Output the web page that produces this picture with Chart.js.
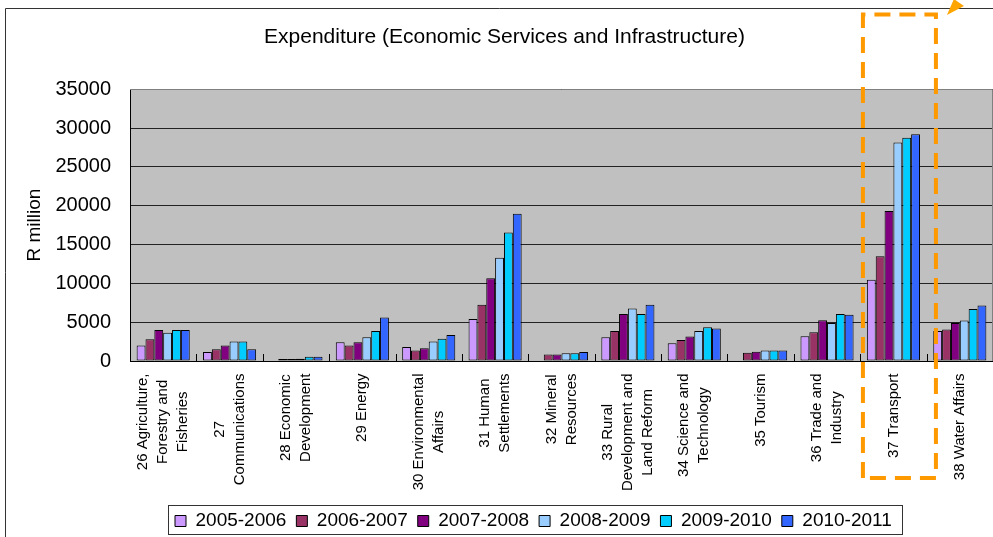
<!DOCTYPE html>
<html>
<head>
<meta charset="utf-8">
<title>Expenditure (Economic Services and Infrastructure)</title>
<script src="https://cdn.jsdelivr.net/npm/chart.js@4.4.1/dist/chart.umd.min.js"></script>
<style>
  html, body { margin: 0; padding: 0; background: #fff; }
  canvas { display: block; }
</style>
</head>
<body>
<canvas id="graficaGasto" width="993" height="537"></canvas>
<script>
// Votos (categorías), cada uno partido en líneas
const categorias = [
  ["26 Agriculture,", "Forestry and", "Fisheries"],
  ["27", "Communications"],
  ["28 Economic", "Development"],
  ["29 Energy"],
  ["30 Environmental", "Affairs"],
  ["31 Human", "Settlements"],
  ["32 Mineral", "Resources"],
  ["33 Rural", "Development and", "Land Reform"],
  ["34 Science and", "Technology"],
  ["35 Tourism"],
  ["36 Trade and", "Industry"],
  ["37 Transport"],
  ["38 Water Affairs"]
];

const periodos = ["2005-2006", "2006-2007", "2007-2008", "2008-2009", "2009-2010", "2010-2011"];

// Gasto en R millones por año fiscal (null = sin dato)
const gasto0506 = [2000, 1150, null, 2400, 1800, 5400, null, 3050, 2300, null, 3200, 10450, 3850];
const gasto0607 = [2800, 1500, 250, 2000, 1350, 7250, 850, 3850, 2700, 1050, 3700, 13500, 4050];
const gasto0708 = [4000, 2000, 250, 2400, 1650, 10650, 850, 6050, 3150, 1200, 5250, 19300, 4900];
const gasto0809 = [3650, 2500, 300, 3050, 2500, 13300, 1000, 6750, 3850, 1350, 4900, 28150, 5200];
const gasto0910 = [4000, 2500, 550, 3850, 2850, 16550, 1000, 6050, 4350, 1350, 6050, 28750, 6700];
const gasto1011 = [4000, 1500, 550, 5600, 3350, 18950, 1150, 7250, 4200, 1350, 5950, 29200, 7150];

const marcasY = [0, 5000, 10000, 15000, 20000, 25000, 30000, 35000];

const colores = ["#CC99FF", "#993366", "#800080", "#99CCFF", "#00CCFF", "#3366FF"];
const series = [gasto0506, gasto0607, gasto0708, gasto0809, gasto0910, gasto1011];

const fuente = '"Liberation Sans", Arial, sans-serif';
Chart.defaults.font.family = fuente;
Chart.defaults.color = "#000";

// Categoría que se resalta con el recuadro naranja
const resaltado = 11;

const adornos = {
  id: "adornos",
  afterUpdate(chart) {
    // mover la leyenda para que empiece donde queremos
    const leyenda = chart.legend;
    if (!leyenda || !leyenda.legendHitBoxes.length) return;
    const delta = 175 - leyenda.legendHitBoxes[0].left;
    leyenda.left += delta;
    leyenda.right += delta;
    leyenda.legendHitBoxes.forEach(h => { h.left += delta; });
  },
  beforeDraw(chart) {
    const { ctx, chartArea: a } = chart;
    ctx.save();
    ctx.fillStyle = "#C0C0C0";
    ctx.fillRect(a.left, a.top, a.right - a.left, a.bottom - a.top);
    ctx.restore();
  },
  afterDraw(chart) {
    const { ctx, chartArea: a } = chart;
    const xs = chart.scales.x;
    ctx.save();

    // borde gris arriba y a la derecha del área de trazado
    ctx.strokeStyle = "#808080";
    ctx.lineWidth = 1;
    ctx.beginPath();
    ctx.moveTo(a.left, Math.round(a.top) + 0.5);
    ctx.lineTo(a.right - 0.5, Math.round(a.top) + 0.5);
    ctx.lineTo(a.right - 0.5, a.bottom);
    ctx.stroke();

    // marcas hacia dentro entre categorías
    const paso = xs.getPixelForTick(1) - xs.getPixelForTick(0);
    ctx.strokeStyle = "#000";
    ctx.beginPath();
    for (let i = 1; i < categorias.length; i++) {
      const x = Math.round(xs.getPixelForTick(i) - paso / 2) + 0.5;
      ctx.moveTo(x, a.bottom - 7);
      ctx.lineTo(x, a.bottom);
    }
    ctx.stroke();

    // etiquetas del eje X giradas, con líneas centradas
    ctx.font = "15px " + fuente;
    ctx.fillStyle = "#000";
    ctx.textAlign = "center";
    ctx.textBaseline = "middle";
    categorias.forEach((lineas, i) => {
      const x = xs.getPixelForTick(i);
      const ancho = Math.max(...lineas.map(l => ctx.measureText(l).width));
      ctx.save();
      ctx.translate(x, xs.top + 12.5 + ancho / 2);
      ctx.rotate(-Math.PI / 2);
      lineas.forEach((l, k) => ctx.fillText(l, 0, (k - (lineas.length - 1) / 2) * 20));
      ctx.restore();
    });

    // marco de la leyenda
    const leyenda = chart.legend;
    const cajas = leyenda.legendHitBoxes;
    if (cajas.length) {
      const ultima = cajas[cajas.length - 1];
      const centro = cajas[0].top + cajas[0].height / 2;
      const izq = Math.round(cajas[0].left - 7) + 0.5;
      const der = Math.round(ultima.left + ultima.width + 10) + 0.5;
      ctx.strokeStyle = "#333";
      ctx.strokeRect(izq, Math.round(centro - 16) + 0.5, der - izq, 29);
    }

    // marco exterior del gráfico
    ctx.strokeStyle = "#333";
    ctx.beginPath();
    ctx.moveTo(5.5, chart.height);
    ctx.lineTo(5.5, 8.5);
    ctx.lineTo(chart.width, 8.5);
    ctx.stroke();

    // recuadro naranja discontinuo alrededor de Transport
    const cx = xs.getPixelForTick(resaltado);
    ctx.strokeStyle = "#FF9900";
    ctx.lineWidth = 4;
    ctx.setLineDash([16, 9]);
    ctx.beginPath();
    ctx.moveTo(cx - 30.5, 478);
    ctx.lineTo(cx - 30.5, 14.5);
    ctx.lineTo(cx + 42.5, 14.5);
    ctx.lineTo(cx + 42.5, 478);
    ctx.lineTo(cx - 30.5, 478);
    ctx.stroke();
    ctx.setLineDash([]);

    // punta de flecha naranja arriba a la derecha
    ctx.fillStyle = "#FFA500";
    ctx.beginPath();
    ctx.moveTo(cx + 53.5, 15);
    ctx.lineTo(cx + 60.5, -1);
    ctx.lineTo(cx + 70.5, 6);
    ctx.closePath();
    ctx.fill();

    ctx.restore();
  }
};

const lienzo = document.getElementById("graficaGasto").getContext("2d");

new Chart(lienzo, {
  type: "bar",
  data: {
    labels: categorias,
    datasets: periodos.map((p, i) => ({
      label: p,
      data: series[i],
      backgroundColor: colores[i],
      borderColor: "#000",
      borderWidth: 1,
      borderSkipped: false,
      categoryPercentage: 0.8,
      barPercentage: 1.0
    }))
  },
  options: {
    responsive: false,
    animation: false,
    devicePixelRatio: 1,
    layout: { padding: { left: 16, right: 0, top: 0, bottom: 0 } },
    scales: {
      x: {
        ticks: { display: false },
        grid: { display: false },
        border: { color: "#000" },
        afterFit: s => { s.height = 140.5; }
      },
      y: {
        min: 0,
        max: 35000,
        afterBuildTicks: s => { s.ticks = marcasY.map(v => ({ value: v })); },
        ticks: { padding: 19, color: "#000", font: { size: 20 }, callback: v => String(v) },
        grid: { color: "#222", drawTicks: false },
        border: { color: "#000" },
        title: { display: true, text: "R million", color: "#000", font: { size: 19 }, padding: { top: 7, bottom: 0 } },
        afterFit: s => { s.width = 114; }
      }
    },
    plugins: {
      title: {
        display: true,
        text: "Expenditure (Economic Services and Infrastructure)",
        color: "#000",
        font: { size: 21, weight: "normal" },
        padding: { top: 25, bottom: 39 }
      },
      legend: {
        position: "bottom",
        maxHeight: 35.5,
        labels: { boxWidth: 11, boxHeight: 11, padding: 10, color: "#000", font: { size: 19 } }
      },
      tooltip: { enabled: false }
    }
  },
  plugins: [adornos]
});
</script>
</body>
</html>
